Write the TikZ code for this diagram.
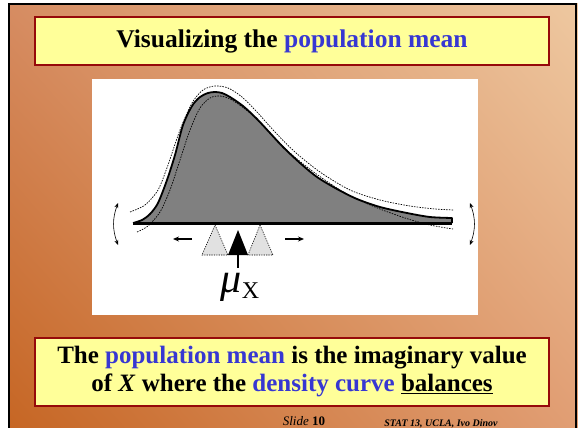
\documentclass[tikz,border=0pt]{standalone}
\usepackage{fontspec}
\setmainfont{Liberation Serif}
\usetikzlibrary{arrows.meta, positioning, shadings}

\definecolor{slideyellow}{RGB}{255,255,153}
\definecolor{slidered}{RGB}{150,10,10}
\definecolor{slideblue}{RGB}{55,55,210}
\definecolor{curvegray}{RGB}{128,128,128}
\definecolor{ghostgray}{RGB}{225,225,225}
\definecolor{bgul}{RGB}{214,140,98}
\definecolor{bgur}{RGB}{238,200,160}
\definecolor{bgll}{RGB}{198,102,36}
\definecolor{bglr}{RGB}{225,158,116}

\tikzset{
  textbox/.style={draw=slidered, line width=2pt, fill=slideyellow,
    minimum width=514pt, inner sep=0pt, align=center},
  curveline/.style={black, line width=1.8pt, line join=round},
  ghostline/.style={black, line width=0.7pt, dash pattern=on 1.5pt off 1.2pt},
  beamline/.style={black, line width=3pt},
  ghosttri/.style={fill=ghostgray, draw=black, line width=0.6pt, dash pattern=on 1.2pt off 1.2pt},
  tiltarrow/.style={{Stealth[length=5pt,width=4pt]}-{Stealth[length=5pt,width=4pt]}, line width=0.6pt},
  slidearrow/.style={-{Stealth[length=6pt,width=5pt]}, line width=1.6pt}
}
\newcommand{\hl}[1]{\textcolor{slideblue}{#1}}

\begin{document}
\begin{tikzpicture}[x=1pt, y=-1pt]
\useasboundingbox (0,0) rectangle (578,428);
\fill[white] (0,0) rectangle (578,428);
% slide background
\shade[upper left=bgul, upper right=bgur, lower left=bgll, lower right=bglr] (9,4) rectangle (578,428);
\draw[black, line width=2pt] (9,432) -- (9,4) -- (576,4) -- (576,432);

\node[textbox, minimum height=48pt, font=\bfseries\fontsize{25.5}{28}\selectfont] (title) at (292,41)
  {Visualizing the \hl{population mean}};

% picture area
\fill[white] (92,79) rectangle (478,315);

% tilted ghost curves
\draw[ghostline] plot[smooth] coordinates {(130,212) (145,205) (158,190) (168,165) (180,130) (192,103) (203,90) (215,86) (228,88) (242,97) (257,112) (275,132) (295,152) (320,172) (350,190) (380,200) (410,206) (435,209) (454,210)};

% density curve
\fill[curvegray] plot[smooth] coordinates {(133,223) (142,220) (150,214) (158,203) (167,180) (175,155) (183,125) (192,106) (200,97) (208,93) (215,92) (222,93) (230,97) (243,106) (257,119) (270,133) (283,147) (300,163) (317,177) (337,189) (357,199) (380,207) (407,213) (430,217) (452,218)} -- (452,223) -- cycle;
\draw[curveline] plot[smooth] coordinates {(133,223) (142,220) (150,214) (158,203) (167,180) (175,155) (183,125) (192,106) (200,97) (208,93) (215,92) (222,93) (230,97) (243,106) (257,119) (270,133) (283,147) (300,163) (317,177) (337,189) (357,199) (380,207) (407,213) (430,217) (452,218)} -- (452,223);

\draw[ghostline] plot[smooth] coordinates {(137,232) (148,226) (160,212) (170,190) (180,160) (190,130) (200,108) (210,98) (220,96) (232,100) (250,113) (270,133) (290,153) (315,173) (345,193) (375,207) (405,218) (430,225) (453,229)};

\coordinate (beamL) at (133,223);
\coordinate (beamR) at (452,223);
\draw[beamline] (beamL) -- (beamR);

% fulcrum positions
\draw[ghosttri] (215,225) -- (228,255) -- (202,255) -- cycle;
\draw[ghosttri] (260,225) -- (273,255) -- (248,255) -- cycle;
\fill[black] (238,230) -- (248,255) -- (228,255) -- cycle;
\coordinate (stemtop) at (238,255);
\coordinate (stembot) at (238,268);
\draw[black, line width=1.8pt] (stemtop) -- (stembot);

% sliding arrows
\coordinate (leftA) at (192,239);
\coordinate (leftB) at (173,239);
\coordinate (rightA) at (285,239);
\coordinate (rightB) at (304,239);
\draw[slidearrow] (leftA) -- (leftB);
\draw[slidearrow] (rightA) -- (rightB);

% tilting arrows
\coordinate (tiltLt) at (118,203);
\coordinate (tiltLb) at (118,245);
\coordinate (tiltRt) at (470,203);
\coordinate (tiltRb) at (470,245);
\draw[tiltarrow] (tiltLt) to[bend right=20] (tiltLb);
\draw[tiltarrow] (tiltRt) to[bend left=20] (tiltRb);

\node[font=\fontsize{42}{44}\selectfont, anchor=base, inner sep=0pt] (mulabel) at (240,292)
  {\textit{μ}\raisebox{-6pt}{\fontsize{24}{24}\selectfont X}};

\node[textbox, minimum height=68pt, font=\bfseries\fontsize{25}{28}\selectfont] (summary) at (292,372)
  {The \hl{population mean} is the imaginary value\\
   of \textit{X} where the \hl{density curve} \underline{balances}};

% footer
\node[font=\fontsize{13}{14}\selectfont, anchor=base] (slideno) at (304,425) {\textit{Slide} \textbf{10}};
\node[font=\bfseries\itshape\fontsize{10}{11}\selectfont, anchor=base] (course) at (441,426) {STAT 13, UCLA, Ivo Dinov};
\end{tikzpicture}
\end{document}
